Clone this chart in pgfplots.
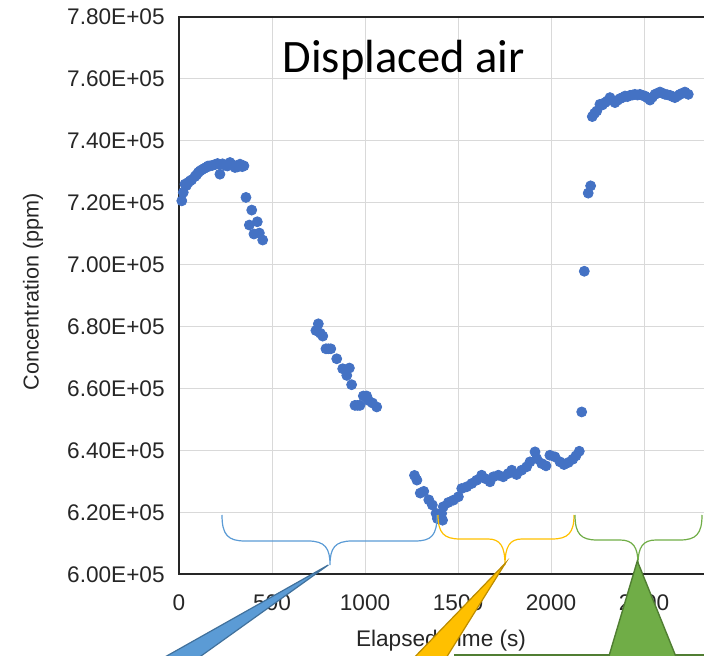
\documentclass[border=0pt]{standalone}
\usepackage{fontspec}
\setmainfont{Liberation Sans}
\newfontfamily\carlito{Carlito}
\usepackage{pgfplots}
\pgfplotsset{compat=1.18}
\definecolor{dotblue}{HTML}{4472C4}
\definecolor{gridgray}{HTML}{D9D9D9}
\definecolor{bblue}{HTML}{5B9BD5}
\definecolor{bblueD}{HTML}{41719C}
\definecolor{byel}{HTML}{FFC000}
\definecolor{byelD}{HTML}{BC8C00}
\definecolor{bgreen}{HTML}{70AD47}
\definecolor{bgreenD}{HTML}{507E32}

\begin{document}
\begin{tikzpicture}
\useasboundingbox (0,0) rectangle (352pt,328pt);
\clip (0,0) rectangle (352pt,328pt);
\begin{axis}[
  at={(89.5pt,40.85pt)}, anchor=south west,
  scale only axis, width=279pt, height=278.8pt,
  xmin=0, xmax=3000, ymin=600000, ymax=780000,
  xtick={0,500,1000,1500,2000,2500},
  xticklabels={0,500,1000,1500,2000,2500},
  extra x ticks={3000}, extra x tick labels={},
  ytick={600000,620000,640000,660000,680000,700000,720000,740000,760000,780000},
  yticklabels={6.00E+05,6.20E+05,6.40E+05,6.60E+05,6.80E+05,7.00E+05,7.20E+05,7.40E+05,7.60E+05,7.80E+05},
  scaled x ticks=false, scaled y ticks=false,
  grid=major, grid style={draw=gridgray, line width=0.5pt},
  axis line style={draw=black!85, line width=1pt},
  tick style={draw=none},
  xticklabel style={font=\fontsize{11.3}{13}\selectfont, text=black!85, anchor=base, inner sep=0pt, yshift=-18pt},
  yticklabel style={font=\fontsize{11.3}{13}\selectfont, text=black!85, anchor=east, inner sep=0pt, xshift=-7pt},
  clip=false,
]
% first plateau and drop
\addplot[only marks, mark=*, mark size=2.5pt, color=dotblue, mark options={fill=dotblue, draw=dotblue}] coordinates {
  (15,720560)(23,723270)(32,725940)(40,725500)(50,726490)(60,727000)(68,727330)
  (86,728420)(95,729000)(104,729710)(113,730200)(122,730550)(135,731000)(145,731320)
  (156,731800)(167,731840)(180,732000)(194,732290)(207,732600)(220,729160)(220,732290)
  (234,732500)(247,732060)(260,731800)(274,732930)(288,732200)(301,731320)(315,731500)
  (328,732390)(340,731600)(349,731840)
  (360,721660)(391,717570)(421,713800)(378,712740)(403,709840)(432,710160)(450,707900)
};
% second descending segment
\addplot[only marks, mark=*, mark size=2.5pt, color=dotblue, mark options={fill=dotblue, draw=dotblue}] coordinates {
  (736,678690)(749,680850)(760,677800)(773,676890)(790,672790)(803,672790)(816,672790)
  (848,669570)(880,666350)(902,664200)(916,666580)(928,661200)(946,654530)(960,654530)
  (973,654530)(991,657560)(1009,657560)(1018,656140)(1040,655300)(1063,654020)
};
% slow rise
\addplot[only marks, mark=*, mark size=2.5pt, color=dotblue, mark options={fill=dotblue, draw=dotblue}] coordinates {
  (1266,631920)(1279,630410)(1297,626220)(1316,626770)(1343,624030)(1362,622390)
  (1389,618010)(1417,617460)(1382,619650)(1412,619650)(1421,621810)(1448,623190)
  (1475,623930)(1502,625030)(1520,627700)(1547,628250)(1574,629310)(1600,630370)
  (1627,631990)(1645,630920)(1672,629860)(1690,631470)(1717,631990)(1743,631470)
  (1770,632530)(1789,633600)(1815,632210)(1842,633600)(1869,634690)(1887,636300)
  (1914,639520)(1923,637360)(1950,635750)(1973,635010)(1994,638430)(2021,637910)
  (2048,636300)(2070,635430)(2093,636080)(2117,637140)(2134,638230)(2152,639720)
};
% jump and final plateau
\addplot[only marks, mark=*, mark size=2.5pt, color=dotblue, mark options={fill=dotblue, draw=dotblue}] coordinates {
  (2165,652410)(2179,697820)(2200,723040)(2213,725390)
  (2222,747750)(2234,748800)(2246,749550)(2263,751710)(2276,751500)(2290,752260)
  (2303,752800)(2317,753870)(2330,753000)(2344,752260)(2357,753000)(2371,753550)
  (2384,753900)(2398,754380)(2411,754200)(2425,754610)(2438,754700)(2451,754930)
  (2465,754700)(2478,754930)(2491,754600)(2505,754380)(2518,753800)(2532,753090)
  (2545,754000)(2559,754930)(2572,755300)(2586,755670)(2600,755300)(2613,754930)
  (2626,754800)(2640,754610)(2653,754200)(2666,753870)(2680,754400)(2693,754930)
  (2706,755300)(2720,755670)(2738,754930)
};
\end{axis}

\begin{scope}[x=0.5pt, y=-0.5pt, shift={(0,328pt)}]
  % labels
  \node[font=\carlito\fontsize{23.25}{28}\selectfont, anchor=base] at (403.5,72.7) {Displaced air};
  \node[font=\fontsize{11.3}{13}\selectfont, text=black!85, anchor=base] at (441,646) {Elapsed Time (s)};
  \node[font=\fontsize{10.8}{13}\selectfont, text=black!85, rotate=90] at (33,292) {Concentration (ppm)};
  % braces
  \draw[bblue, line width=0.6pt] (222,515) .. controls (222,535) and (228,541) .. (245,541) -- (308,541)
     .. controls (325,541) and (330,548) .. (330,565)
     .. controls (330,548) and (335,541) .. (352,541) -- (415,541)
     .. controls (432,541) and (437,535) .. (437,515);
  \draw[byel, line width=0.6pt] (438,515) .. controls (438,533) and (444,539) .. (460,539) -- (488,539)
     .. controls (500,539) and (505,546) .. (505,565)
     .. controls (505,546) and (510,539) .. (522,539) -- (552,539)
     .. controls (568,539) and (574,533) .. (574,515);
  \draw[bgreen, line width=0.6pt] (575,515) .. controls (575,534) and (581,540) .. (597,540) -- (620,540)
     .. controls (633,540) and (638,547) .. (638,564)
     .. controls (638,547) and (643,540) .. (656,540) -- (680,540)
     .. controls (696,540) and (702,534) .. (702,515);
  % callout pointers
  \filldraw[fill=bblue, draw=bblueD, line width=0.6pt] (328.3,565) -- (188.4,665) -- (150.7,665) -- cycle;
  \filldraw[fill=byel, draw=byelD, line width=0.6pt] (505.7,562.7) -- (441.7,665) -- (407,665) -- cycle;
  \draw[bgreenD, line width=1pt] (454,655.5) -- (710,655.5);
  \filldraw[fill=bgreen, draw=bgreenD, line width=0.7pt] (637.3,561) -- (679.3,665) -- (606.3,665) -- cycle;
\end{scope}
\end{tikzpicture}
\end{document}
